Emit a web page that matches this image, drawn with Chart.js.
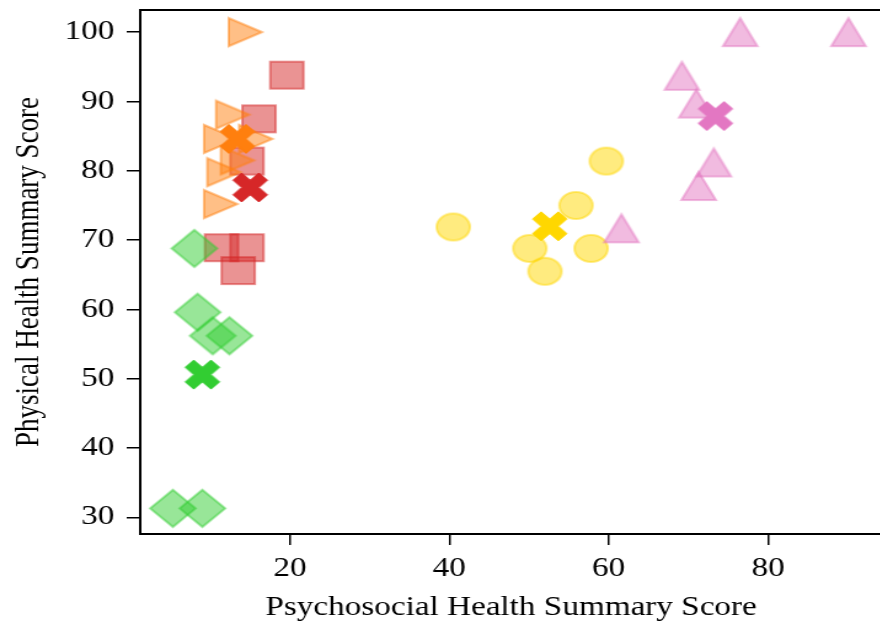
<!DOCTYPE html>
<html>
<head>
<meta charset="utf-8">
<script src="https://cdn.jsdelivr.net/npm/chart.js@4"></script>
<style>
  html, body { margin: 0; padding: 0; background: #fff; overflow: hidden; }
  #wrap { width: 880px; height: 625px; overflow: hidden; position: relative; }
  /* the reference picture is stretched sideways, so the chart is drawn narrower and scaled */
  #box { position: absolute; left: 0; top: 0; width: 722px; height: 625px; transform: scaleX(1.23); transform-origin: 0 0; }
</style>
</head>
<body>
<div id="wrap"><div id="box"><canvas id="chart"></canvas></div></div>
<script>
const xTicks = [20, 40, 60, 80];
const yTicks = [30, 40, 50, 60, 70, 80, 90, 100];

const redX = [19.6, 16.1, 14.6, 11.4, 14.6, 13.5];
const redY = [93.8, 87.5, 81.4, 68.9, 68.9, 65.6];
const orangeX = [14.4, 12.8, 11.3, 15.7, 13.4, 11.7, 11.3];
const orangeY = [100, 88.1, 84.6, 84.6, 81.5, 79.8, 75.2];
const greenX = [8.0, 8.4, 10.3, 12.4, 5.3, 9.0];
const greenY = [68.8, 59.6, 56.2, 56.2, 31.3, 31.3];
const yellowX = [40.5, 59.7, 55.9, 50.1, 52.0, 57.8];
const yellowY = [71.9, 81.4, 75.0, 68.8, 65.5, 68.8];
const pinkX = [76.5, 90.1, 69.2, 71.0, 73.2, 71.3, 61.6];
const pinkY = [100, 100, 93.7, 89.7, 81.2, 77.8, 71.7];

// cluster centres, drawn as X markers (order: red, orange, green, yellow, pink)
const centreX = [15.0, 13.4, 9.0, 52.6, 73.4];
const centreY = [77.6, 84.6, 50.6, 72.0, 87.9];

const colors = ["#d62728", "#ff7f0e", "#32cd32", "#ffd700", "#e377c2"];

function marker(shape, w, h, color, alpha, lw) {
  const pad = lw + 1;
  const c = document.createElement("canvas");
  c.width = Math.ceil(w + 2 * pad);
  c.height = Math.ceil(h + 2 * pad);
  const g = c.getContext("2d");
  g.translate(c.width / 2, c.height / 2);
  const a = w / 2, b = h / 2;
  let pts = null;
  g.beginPath();
  if (shape === "circle") g.ellipse(0, 0, a, b, 0, 0, Math.PI * 2);
  if (shape === "square") pts = [[-a, -b], [a, -b], [a, b], [-a, b]];
  if (shape === "diamond") pts = [[0, -b], [a, 0], [0, b], [-a, 0]];
  if (shape === "up") pts = [[0, -b], [a, b], [-a, b]];
  if (shape === "right") pts = [[a, 0], [-a, -b], [-a, b]];
  if (shape === "x") {
    const u = a / 2, v = b / 2;
    pts = [[-u, -b], [0, -v], [u, -b], [a, -v], [u, 0], [a, v], [u, b], [0, v], [-u, b], [-a, v], [-u, 0], [-a, -v]];
  }
  if (pts) pts.forEach((p, i) => i ? g.lineTo(p[0], p[1]) : g.moveTo(p[0], p[1]));
  g.closePath();
  g.globalAlpha = alpha;
  g.fillStyle = color;
  g.fill();
  g.lineWidth = lw;
  g.strokeStyle = color;
  g.stroke();
  return c;
}

function pts(xs, ys) {
  return xs.map((x, i) => ({ x: x, y: ys[i] }));
}

const groups = [
  { xs: redX, ys: redY, style: marker("square", 27, 27, colors[0], 0.5, 2) },
  { xs: orangeX, ys: orangeY, style: marker("right", 27, 28, colors[1], 0.5, 2) },
  { xs: greenX, ys: greenY, style: marker("diamond", 37, 37, colors[2], 0.5, 2) },
  { xs: yellowX, ys: yellowY, style: marker("circle", 27, 27, colors[3], 0.5, 2) },
  { xs: pinkX, ys: pinkY, style: marker("up", 28, 28, colors[4], 0.5, 2) }
];

const datasets = groups.map(gr => ({
  data: pts(gr.xs, gr.ys),
  pointStyle: gr.style,
  pointRadius: 4,
  showLine: false,
  clip: false
}));
centreX.forEach((x, i) => {
  datasets.push({
    data: [{ x: x, y: centreY[i] }],
    pointStyle: marker("x", 28, 29, colors[i], 1, 1),
    pointRadius: 4,
    showLine: false,
    clip: false
  });
});
// later datasets on top
datasets.forEach((d, i) => { d.order = datasets.length - i; });

const frame = {
  id: "frame",
  afterDraw(c) {
    const { ctx, chartArea: a } = c;
    ctx.save();
    ctx.strokeStyle = "#000";
    ctx.lineWidth = 2;
    ctx.beginPath();
    ctx.moveTo(a.left - 1, a.top);
    ctx.lineTo(a.right, a.top);
    ctx.lineTo(a.right, a.bottom);
    ctx.stroke();
    ctx.restore();
  }
};

const serif = { family: "Liberation Serif", size: 27 };

function noPad(s) {
  s.paddingTop = 0;
  s.paddingBottom = 0;
  s.paddingLeft = 0;
  s.paddingRight = 0;
}

new Chart(document.getElementById("chart"), {
  type: "scatter",
  data: { datasets: datasets },
  plugins: [frame],
  options: {
    responsive: true,
    maintainAspectRatio: false,
    animation: false,
    layout: { padding: { top: 10, right: 2, left: 0, bottom: 0 } },
    plugins: { legend: { display: false }, tooltip: { enabled: false } },
    scales: {
      x: {
        type: "linear",
        min: 1.2,
        max: 94.3,
        afterBuildTicks: s => { s.ticks = xTicks.map(v => ({ value: v })); },
        afterFit: s => { s.height = 91; noPad(s); },
        grid: { drawOnChartArea: false, drawTicks: true, tickLength: 11, color: "#000", lineWidth: 1.5 },
        border: { display: true, color: "#000", width: 2 },
        ticks: { color: "#000", font: serif, padding: 8, maxRotation: 0, autoSkip: false },
        title: { display: true, text: "Psychosocial Health Summary Score", color: "#000", font: serif, padding: { top: 0, bottom: 1 } }
      },
      y: {
        type: "linear",
        min: 27.6,
        max: 103.2,
        afterBuildTicks: s => { s.ticks = yTicks.map(v => ({ value: v })); },
        afterFit: s => { s.width = 114; noPad(s); },
        grid: { drawOnChartArea: false, drawTicks: true, tickLength: 11, color: "#000", lineWidth: 1.5 },
        border: { display: true, color: "#000", width: 2 },
        ticks: { color: "#000", font: serif, padding: 10, autoSkip: false },
        title: { display: true, text: "Physical Health Summary Score", color: "#000", font: serif, padding: { top: 8, bottom: 0 } }
      }
    }
  }
});
</script>
</body>
</html>
